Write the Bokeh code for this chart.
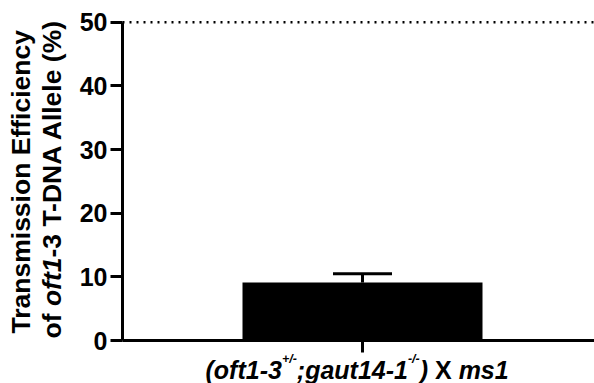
import math
from bokeh.plotting import figure
from bokeh.models import Range1d, FixedTicker, Whisker, TeeHead, ColumnDataSource, Label
from bokeh.embed import file_html
from bokeh.resources import INLINE

# ---- data ----
categories = ["(oft1-3+/-;gaut14-1-/-) X ms1"]
means = [9.1]
errors = [1.4]
y_ticks = [0, 10, 20, 30, 40, 50]
ref_level = 50
y_max = 50

# ---- Liberation Sans Bold advance widths (em units) ----
WD = {" ": 0.278, "%": 0.889, "(": 0.333, ")": 0.333, "+": 0.584, "-": 0.333, "/": 0.278,
      "1": 0.556, "3": 0.556, "4": 0.556, ";": 0.333, "A": 0.722, "D": 0.722, "E": 0.667,
      "N": 0.722, "T": 0.611, "X": 0.667, "a": 0.556, "c": 0.556, "e": 0.556, "f": 0.333,
      "g": 0.611, "i": 0.278, "l": 0.278, "m": 0.889, "n": 0.611, "o": 0.611, "r": 0.389,
      "s": 0.556, "t": 0.333, "u": 0.611, "y": 0.556}


def tw(s, size):
    return sum(WD.get(c, 0.6) for c in s) * size


FONT = "Liberation Sans"
BASE_FIX = 0.45     # em shift so that the anchor lands on the alphabetic baseline
W_FIG, H_FIG = 594, 383
# pixel layout (from top-left of the canvas)
AX_X = 122          # y-axis position
Y0_PX, YTOP_PX = 340, 21.7
PX_PER_CAT = 480
BAR_W = 0.5
cat_lo = -0.5

ppy = (Y0_PX - YTOP_PX) / y_max
x_start = cat_lo - AX_X / PX_PER_CAT
x_end = x_start + W_FIG / PX_PER_CAT
y_start = -(H_FIG - Y0_PX) / ppy
y_end = y_max + YTOP_PX / ppy

xpos = list(range(len(categories)))
src = ColumnDataSource(dict(x=xpos, top=means,
                            upper=[m + e for m, e in zip(means, errors)]))

p = figure(width=W_FIG, height=H_FIG, output_backend="svg", toolbar_location=None,
           x_range=Range1d(x_start, x_end), y_range=Range1d(y_start, y_end),
           min_border=0, min_border_left=0, min_border_right=0, min_border_top=0,
           min_border_bottom=0)
p.title.visible = False
p.outline_line_color = None
p.xgrid.visible = False
p.ygrid.visible = False
p.background_fill_color = "white"
p.border_fill_color = "white"

# y axis
yax = p.yaxis[0]
yax.fixed_location = cat_lo
yax.bounds = (0, y_max)
yax.ticker = FixedTicker(ticks=y_ticks)
yax.major_label_text_font = FONT
yax.major_label_text_font_size = "25px"
yax.major_label_text_font_style = "bold"
yax.major_label_text_color = "black"
yax.major_label_standoff = 3
yax.major_tick_out = 12
yax.major_tick_in = 0
yax.minor_tick_out = 0
yax.minor_tick_in = 0
yax.axis_line_width = 3
yax.major_tick_line_width = 3
yax.axis_line_color = "black"
yax.major_tick_line_color = "black"

# x axis
xax = p.xaxis[0]
xax.fixed_location = 0
xax.bounds = (cat_lo, x_end)
xax.ticker = FixedTicker(ticks=xpos)
xax.major_label_overrides = {i: "" for i in xpos}
xax.major_tick_out = 12
xax.major_tick_in = 0
xax.minor_tick_out = 0
xax.minor_tick_in = 0
xax.axis_line_width = 3
xax.major_tick_line_width = 3
xax.axis_line_color = "black"
xax.major_tick_line_color = "black"

# bars + error bars
p.vbar(x="x", top="top", width=BAR_W, source=src, fill_color="black", line_color=None)
p.add_layout(Whisker(base="x", lower="top", upper="upper", source=src,
                     line_width=3, line_color="black",
                     upper_head=TeeHead(size=59, line_width=3, line_color="black"),
                     lower_head=None))

# dotted reference line
p.ray(x=[cat_lo], y=[ref_level], length=0, angle=0, line_color="black",
      line_width=2.5, line_dash="2 5", line_dash_offset=0)


def sy(py):
    return H_FIG - py


def lead(t):
    return len(t) - len(t.lstrip(" "))


# ---- x category label (rich text) ----
MAIN, SUP = 25, 12.5
pieces = [("(oft1-3", MAIN, "bold italic", 0),
          ("+/-", SUP, "bold italic", 16),
          (";gaut14-1", MAIN, "bold italic", 0),
          ("-/-", SUP, "bold italic", 16),
          (") ", MAIN, "bold italic", 0),
          ("X", MAIN, "bold", 0),
          (" ms1", MAIN, "bold italic", 0)]
cx = 205
base_py = 380.5
for t, s, st, rise in pieces:
    shift = tw(" " * lead(t), s)
    p.add_layout(Label(x=cx + shift, y=sy(base_py) + rise + BASE_FIX * s,
                       x_units="screen", y_units="screen",
                       text=t.strip(" "), text_font=FONT, text_font_size=f"{s}px",
                       text_font_style=st, text_color="black",
                       text_align="left", text_baseline="alphabetic"))
    cx += tw(t, s)

# ---- y axis title (two lines, rotated) ----
YS = 26.5
lines = [(32.5, 333, [("Transmission Efficiency", "bold")]),
         (63, 338, [("of ", "bold"), ("oft1", "bold italic"),
                    ("-3 T-DNA Allele (%)", "bold")])]
for bx, start_py, segs in lines:
    cy = sy(start_py)
    for t, st in segs:
        p.add_layout(Label(x=bx - BASE_FIX * YS, y=cy + tw(" " * lead(t), YS),
                           x_units="screen", y_units="screen",
                           text=t.strip(" "), text_font=FONT, text_font_size=f"{YS}px",
                           text_font_style=st, text_color="black",
                           angle=math.pi / 2, text_align="left",
                           text_baseline="alphabetic"))
        cy += tw(t, YS)

open("out.html", "w").write(file_html(p, INLINE))
